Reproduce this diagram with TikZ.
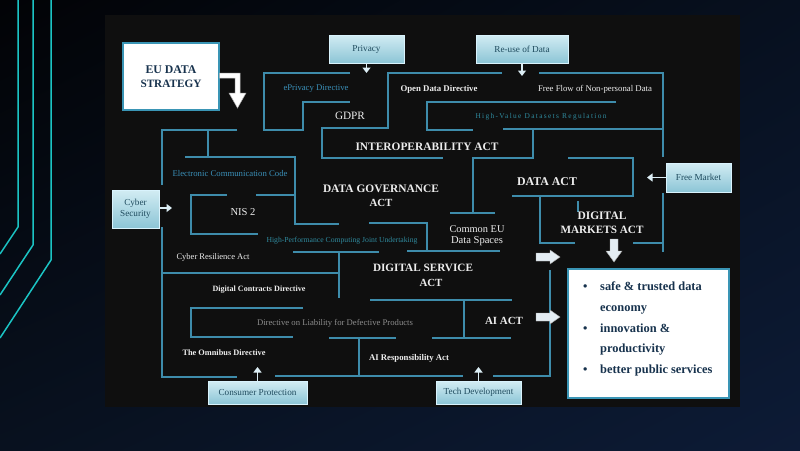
\documentclass[tikz,border=0pt]{standalone}
\usepackage{fontspec}
\setmainfont{Liberation Serif}
\usepackage{graphicx}
\usetikzlibrary{arrows.meta,shadings}
\definecolor{bgA}{HTML}{020306}
\definecolor{bgB}{HTML}{07101F}
\definecolor{bgC}{HTML}{08111F}
\definecolor{bgD}{HTML}{0D1B36}
\definecolor{panelc}{HTML}{0F0F0F}
\definecolor{tealc}{HTML}{1BC4C4}
\definecolor{mzc}{HTML}{3E8CAB}
\definecolor{bluet}{HTML}{3A8FB8}
\definecolor{tealt}{HTML}{2F8A9E}
\definecolor{whitet}{HTML}{EDEDED}
\definecolor{grayt}{HTML}{8C8C8C}
\definecolor{boxT}{HTML}{D2ECF3}
\definecolor{boxB}{HTML}{8CC5D6}
\definecolor{boxtxt}{HTML}{1F4B5E}
\definecolor{navyt}{HTML}{17324D}
\definecolor{bordc}{HTML}{3A95B5}
\definecolor{arrc}{HTML}{DCEEF5}
\definecolor{barr}{HTML}{E4EDF3}
\newcommand{\fw}[2]{\resizebox{#1pt}{!}{#2}}
\begin{document}
\begin{tikzpicture}[x=1pt,y=-1pt,
  mz/.style={draw=mzc, line width=2.2pt},
  tl/.style={draw=tealc, line width=1.5pt},
  lbl/.style={inner sep=0pt, text=whitet},
  hd/.style={inner sep=0pt, text=whitet, font=\bfseries},
  gbox/.style={draw=white!85!cyan, line width=0.8pt, top color=boxT, bottom color=boxB,
    text=boxtxt, inner sep=0pt, font=\fontsize{9.2}{11}\selectfont, align=center},
  wbox/.style={draw=bordc, line width=1.4pt, fill=white, inner sep=0pt},
  sarr/.style={draw=arrc, line width=1.8pt, -{Triangle[width=8pt,length=5.5pt]}},
  barrow/.style={fill=barr, draw=gray!70, line width=0.4pt},
  item/.style={anchor=base west, inner sep=0pt, text=navyt, font=\fontsize{12.4}{14}\selectfont\bfseries}
]
\useasboundingbox (0,0) rectangle (800,450);
\shade[upper left=bgA, upper right=bgB, lower left=bgC, lower right=bgD] (0,0) rectangle (800,450);
% teal decorative lines
\draw[tl] (18,0) -- (18,227) -- (0,254);
\draw[tl] (33,0) -- (33,245) -- (0,295);
\draw[tl] (51,0) -- (51,260) -- (0,338);
% panel
\fill[panelc] (105,15) rectangle (740,407);

% maze lines
\draw[mz] (350,73) -- (264,73) -- (264,130) -- (303,130) -- (303,102) -- (350,102);
\draw[mz] (502,73) -- (388,73) -- (388,128) -- (322,128) -- (322,158) -- (443,158);
\draw[mz] (539,73) -- (663,73) -- (663,157);
\draw[mz] (616,102) -- (427,102) -- (427,130) -- (473,130);
\draw[mz] (503,129) -- (663,129);
\draw[mz] (533,129) -- (533,158) -- (473,158) -- (473,213);
\draw[mz] (450,213) -- (495,213);
\draw[mz] (568,158) -- (633,158) -- (633,196) -- (512,196);
\draw[mz] (540,196) -- (540,243) -- (575,243);
\draw[mz] (578,201) -- (578,212);
\draw[mz] (663,193) -- (663,252);
\draw[mz] (633,243) -- (663,243);
\draw[mz] (237,130) -- (162,130) -- (162,185);
\draw[mz] (162,227) -- (162,377) -- (237,377);
\draw[mz] (208,130) -- (208,157);
\draw[mz] (185,157) -- (295,157) -- (295,224) -- (339,224);
\draw[mz] (227,195) -- (191,195) -- (191,234) -- (258,234);
\draw[mz] (256,195) -- (295,195);
\draw[mz] (369,223) -- (427,223) -- (427,251);
\draw[mz] (407,251) -- (500,251);
\draw[mz] (293,252) -- (379,252);
\draw[mz] (339,252) -- (339,298);
\draw[mz] (162,273) -- (339,273);
\draw[mz] (303,308) -- (191,308) -- (191,337) -- (293,337);
\draw[mz] (370,300) -- (512,300);
\draw[mz] (464,300) -- (464,338);
\draw[mz] (432,338) -- (511,338);
\draw[mz] (329,338) -- (396,338);
\draw[mz] (359,338) -- (359,376);
\draw[mz] (275,376) -- (463,376);
\draw[mz] (493,376) -- (550,376) -- (550,270);

% maze labels
\node[lbl, text=bluet] (eprv) at (316,89) {\fw{65}{ePrivacy Directive}};
\node[lbl] (odd) at (439,89) {\fw{77}{\bfseries Open Data Directive}};
\node[lbl] (ffd) at (595,89) {\fw{114}{Free Flow of Non-personal Data}};
\node[lbl] (gdpr) at (350,116) {\fw{30}{GDPR}};
\node[lbl, text=tealt] (hvd) at (541,117) {\fw{131}{\addfontfeatures{LetterSpace=18}High-Value Datasets Regulation}};
\node[hd] (ia) at (427,147) {\fw{143}{INTEROPERABILITY ACT}};
\node[lbl, text=bluet] (ecc) at (230,174) {\fw{115}{Electronic Communication Code}};
\node[lbl] (nis) at (243,212) {\fw{25}{NIS 2}};
\node[hd] (dga1) at (381,189) {\fw{116}{DATA GOVERNANCE}};
\node[hd] (dga2) at (381,203) {\fw{23}{ACT}};
\node[lbl] (ceu1) at (477,229) {\fw{55}{Common EU}};
\node[lbl] (ceu2) at (477,241) {\fw{52}{Data Spaces}};
\node[hd] (da) at (547,182) {\fw{60}{DATA ACT}};
\node[hd] (dma1) at (602,216) {\fw{49}{DIGITAL}};
\node[hd] (dma2) at (602,230) {\fw{83}{MARKETS ACT}};
\node[lbl, text=tealt] (hpc) at (342,241) {\fw{151}{High-Performance Computing Joint Undertaking}};
\node[lbl] (cra) at (213,257) {\fw{73}{Cyber Resilience Act}};
\node[hd] (dsa1) at (423,268) {\fw{100}{DIGITAL SERVICE}};
\node[hd] (dsa2) at (431,283) {\fw{23}{ACT}};
\node[lbl] (dcd) at (259,290) {\fw{93}{\bfseries Digital Contracts Directive}};
\node[lbl, text=grayt] (dld) at (335,323) {\fw{156}{Directive on Liability for Defective Products}};
\node[lbl] (omn) at (224,353) {\fw{83}{\bfseries The Omnibus Directive}};
\node[lbl] (air) at (409,358) {\fw{80}{\bfseries AI Responsibility Act}};
\node[hd] (aia) at (504,321) {\fw{38}{AI ACT}};

% EU data strategy box
\node[wbox, minimum width=96pt, minimum height=67pt] (eu) at (171,76.5) {};
\node[hd, text=navyt] (eu1) at (171,70) {\fw{51}{EU DATA}};
\node[hd, text=navyt] (eu2) at (171,84) {\fw{61}{STRATEGY}};
\draw[fill=white, draw=gray!60, line width=0.5pt] (219.5,73) -- (240,73) -- (240,93) -- (246,93) -- (237.5,108) -- (229,93) -- (235,93) -- (235,78) -- (219.5,78) -- cycle;

% gradient driver boxes
\node[gbox, minimum width=75pt, minimum height=28pt] (priv) at (366.5,49) {Privacy};
\node[gbox, minimum width=92pt, minimum height=28pt] (reuse) at (522,49) {Re-use of Data};
\node[gbox, minimum width=65pt, minimum height=29pt] (fm) at (698.5,177.5) {Free Market};
\node[gbox, minimum width=47pt, minimum height=38pt] (cyb) at (135.5,209) {Cyber\\Security};
\node[gbox, minimum width=99pt, minimum height=23pt] (cons) at (257.5,392.5) {Consumer Protection};
\node[gbox, minimum width=85pt, minimum height=23pt] (tech) at (478.5,392.5) {Tech Development};

\coordinate (privE) at (366.5,73);
\coordinate (reuseE) at (522,76);
\coordinate (fmE) at (647,177.5);
\coordinate (cybE) at (172,208);
\coordinate (consE) at (257.5,367);
\coordinate (techE) at (478.5,367);
\draw[sarr] (priv.south) -- (privE);
\draw[sarr] (reuse.south) -- (reuseE);
\draw[sarr] (fm.west) -- (fmE);
\draw[sarr] (cyb.east |- cybE) -- (cybE);
\draw[sarr] (cons.north) -- (consE);
\draw[sarr] (tech.north) -- (techE);

% block arrows
\draw[barrow] (536,253) -- (550,253) -- (550,250) -- (560,257) -- (550,264) -- (550,261) -- (536,261) -- cycle;
\draw[barrow] (536,313) -- (550,313) -- (550,310) -- (560,317) -- (550,324) -- (550,321) -- (536,321) -- cycle;
\draw[barrow] (610,239) -- (618,239) -- (618,251) -- (622,251) -- (614,262) -- (606,251) -- (610,251) -- cycle;

% outcomes box
\node[wbox, minimum width=161pt, minimum height=129pt] (out) at (648.5,333.5) {};
\node[item] (b1) at (583,290.5) {\textbullet};
\node[item] (t1) at (600,290.5) {safe \& trusted data};
\node[item] (t1b) at (600,311) {economy};
\node[item] (b2) at (583,332) {\textbullet};
\node[item] (t2) at (600,332) {innovation \&};
\node[item] (t2b) at (600,352.5) {productivity};
\node[item] (b3) at (583,373) {\textbullet};
\node[item] (t3) at (600,373) {better public services};
\end{tikzpicture}
\end{document}
